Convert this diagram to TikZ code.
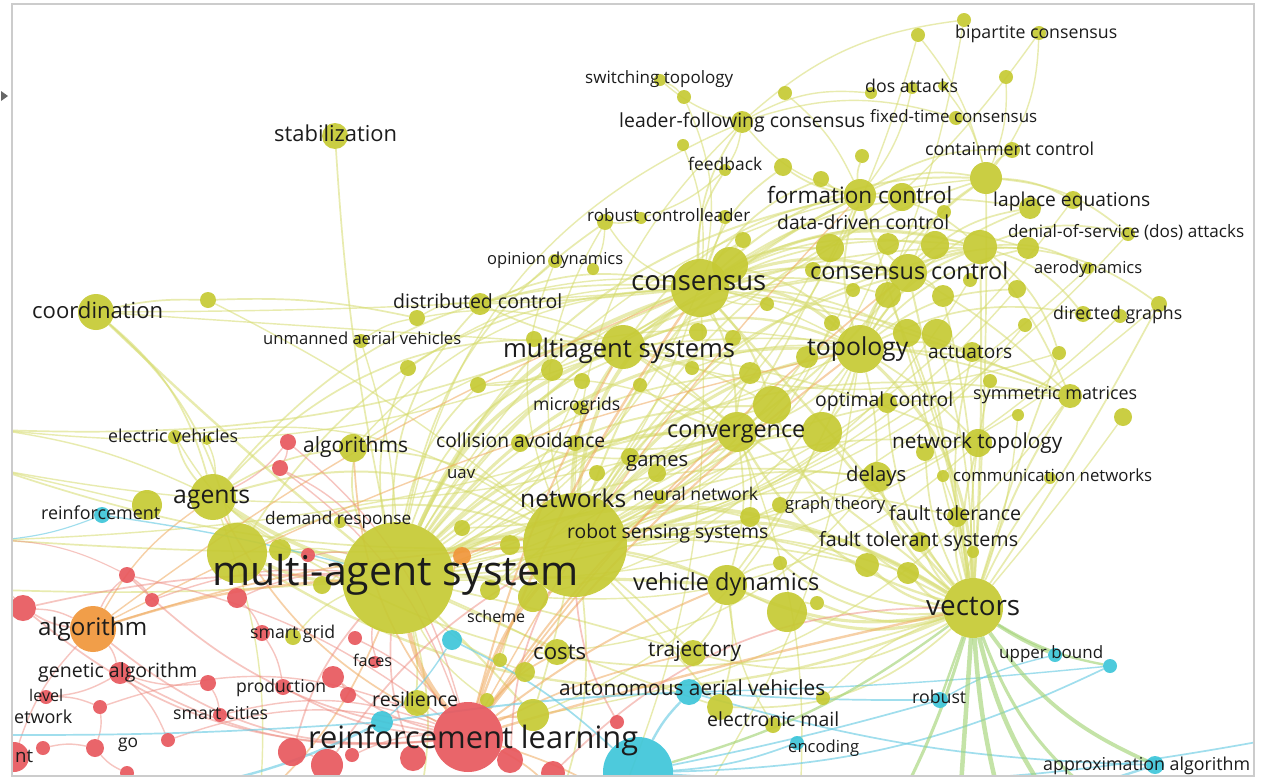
\documentclass[tikz,border=0pt]{standalone}
\usepackage{fontspec}
\setmainfont{Open Sans}
\usepackage{graphicx}
\usetikzlibrary{backgrounds}
\definecolor{yel}{RGB}{198,202,52}
\definecolor{red1}{RGB}{232,88,94}
\definecolor{cya1}{RGB}{62,198,218}
\definecolor{ora1}{RGB}{240,150,58}
\definecolor{yedge}{RGB}{214,220,110}
\definecolor{redge}{RGB}{238,140,130}
\definecolor{oedge}{RGB}{240,170,95}
\definecolor{cedge}{RGB}{110,205,228}
\definecolor{gedge}{RGB}{165,212,120}
\definecolor{txt}{RGB}{28,28,28}
\newcommand{\fw}[2]{\resizebox{#1pt}{!}{#2}}
\pgfdeclarelayer{edgelayer}
\pgfsetlayers{edgelayer,main}
\tikzset{
  ball/.style={circle,inner sep=0pt,draw=none,fill opacity=0.92},
  yb/.style={ball,fill=yel},
  rb/.style={ball,fill=red1},
  cb/.style={ball,fill=cya1},
  ob/.style={ball,fill=ora1},
  ye/.style={draw=yedge,draw opacity=0.55},
  re/.style={draw=redge,draw opacity=0.5},
  oe/.style={draw=oedge,draw opacity=0.55},
  ce/.style={draw=cedge,draw opacity=0.65},
  ge/.style={draw=gedge,draw opacity=0.65},
  lab/.style={inner sep=0pt,anchor=base west,text=txt},
}
\begin{document}
\begin{tikzpicture}[x=1pt,y=-1pt]
\useasboundingbox (0,0) rectangle (1268,779);
\begin{scope}
\clip (13,5) rectangle (1253,775);
% ---------- hubs
\foreach \n/\x/\y/\r in {mas/398/578/56,net/575/545/52,con/700/288/29,con2/730/265/18,mags/623/347/22,
 top/860/349/24,vec/973/608/30,agt/213/497/23,agl/147/505/15,big1/237/553/30,coo/96/312/18,stab/335/136/13,
 conv/737/432/20,conv2/772/405/19,conv3/822/432/20,fc/860/195/16,fc2/902/197/14,cc/908/273/19,k1/986/178/16,
 k2/980/247/17,vd/727/585/20,vd2/787/612/20}
  \node[yb,minimum size={2*\r*1pt}] (\n) at (\x,\y) {};
\foreach \n/\x/\y/\r in {a1/208/300/8,a2/361/341/7,a3/408/368/8,a4/417/318/8,a5/660/80/6,a6/684/97/7,a7/785/93/7,
 a8/742/122/11,a9/683/145/6,a10/725/170/6,a11/783/167/9,a12/821/179/8,a13/605/222/8,a14/641/218/6,a15/725/217/7,
 a16/743/240/8,a17/555/261/7,a18/593/269/6,a19/480/304/11,a20/767/304/7,a21/534/339/8,a22/698/332/9,a23/733/338/8,
 a24/552/370/11,a25/582/381/8,a26/692/368/7,a27/750/373/11,a28/478/385/8,a29/640/385/7,a30/964/20/7,a31/918/35/7,
 a32/1039/33/7,a33/1006/77/7,a34/871/93/6,a35/912/88/6,a36/943/86/5,a37/956/118/7,a38/862/156/7,a39/1012/150/8,
 a40/1030/208/11,a41/1073/200/9,a42/944/212/7,a43/1128/234/7,a44/1028/248/11,a45/1088/268/6,a46/1017/289/9,
 a47/970/280/7,a48/1083/314/8,a49/1120/316/7,a50/1159/304/8,a51/1025/325/7,a52/972/352/10,a53/1059/353/7,
 a54/1070/396/12,a55/990/381/7,a56/830/248/14,a57/888/244/11,a58/935/245/14,a59/813/270/8,a60/853/290/7,
 a61/888/295/13,a62/943/296/11,a64/832/323/8,a65/907/333/14,a66/937/334/15,a67/807/357/11,a68/887/403/10,
 a69/1018/415/6,a70/1123/417/9,a71/925/452/9,a72/978/443/14,a73/877/477/15,a74/943/476/6,a75/1050/478/6,
 a76/957/517/10,a77/920/542/10,a78/973/552/6,a79/867/565/12,a80/908/573/11,a81/580/408/7,a82/630/457/9,
 a83/575/443/8,a84/520/443/9,a85/657/473/9,a86/597/473/8,a87/462/528/8,a88/510/545/10,a89/750/517/10,
 a90/660/497/7,a91/780/563/7,a92/817/603/7,a93/490/590/10,a94/533/597/15,a95/500/660/7,a96/525/672/10,
 a97/557/652/13,a98/693/653/13,a99/533/715/16,a100/720/707/13,a101/773/725/8,a102/823/698/7,a103/175/437/7,
 a104/207/440/5,a105/353/448/14,a106/340/522/6,a107/280/550/11,a108/322/585/9,a109/293/637/8,a110/417/703/13,
 a111/487/700/7,a112/780/505/8}
  \node[yb,minimum size={2*\r*1pt}] (\n) at (\x,\y) {};
\foreach \n/\x/\y/\r in {r1/288/442/8,r2/280/468/8,r3/308/555/7,r4/127/575/8,r5/152/600/7,r6/237/598/10,
 r7/23/608/13,r8/262/633/8,r9/355/638/7,r10/120/673/11,r11/208/683/8,r12/333/677/11,r13/283/687/8,r14/348/695/8,
 r15/375/662/6,r16/46/697/7,r17/100/707/7,r18/220/715/7,r19/168/740/7,r20/95/748/9,r21/43/748/7,r22/14/757/15,
 r23/127/773/7,r24/292/752/14,r25/327/765/16,r26/352/755/7,r27/413/758/13,r28/510/760/13,r29/553/773/12,
 r30/617/722/7,rl/468/737/35}
  \node[rb,minimum size={2*\r*1pt}] (\n) at (\x,\y) {};
\foreach \n/\x/\y/\r in {c1/102/515/8,c2/452/640/10,c3/382/722/11,c4/689/692/13,c5/797/743/7,c6/1055/655/7,
 c7/1110/666/7,c8/940/700/8,c9/1155/765/9,opt/638/772/35}
  \node[cb,minimum size={2*\r*1pt}] (\n) at (\x,\y) {};
\node[ob,minimum size=18pt] (o1) at (462,556) {};
\node[ob,minimum size=46pt] (alg) at (93,629) {};
\foreach \n/\x/\y in {g1/960/800,g2/1000/800,g3/1050/800,g4/1100/800,g5/900/800,cl1/0/778,cl2/0/735,cr1/1268/740,
 yl1/0/430,yl2/0/470,yl3/0/540,yl4/0/590,b1/420/800,b2/560/800,b3/700/800,b4/620/800,b5/260/800,b6/800/800}
  \coordinate (\n) at (\x,\y);
% ---------- labels
\foreach \n/\x/\y/\w/\t in {
 l1/955/38/162/bipartite consensus, l2/585/83/148/switching topology, l3/865/92/93/dos attacks,
 l4/619/127/246/leader-following consensus, l5/870/122/167/fixed-time consensus,
 l6/925/155/169/containment control, l7/688/170/74/feedback, l8/274/141/123/stabilization,
 l9/767/203/185/formation control, l10/993/206/157/laplace equations, l11/587/221/163/robust controlleader,
 l12/777/229/172/data-driven control, l13/1008/237/236/denial-of-service (dos) attacks,
 l14/487/264/136/opinion dynamics, l15/631/290/135/consensus, l16/810/279/198/consensus control,
 l17/1034/273/108/aerodynamics, l18/32/318/131/coordination, l19/393/308/169/distributed control,
 l20/1053/319/129/directed graphs, l21/263/344/198/unmanned aerial vehicles, l22/503/357/232/multiagent systems,
 l23/807/355/101/topology, l24/928/358/84/actuators, l25/973/399/164/symmetric matrices, l26/533/410/87/microgrids,
 l27/815/406/138/optimal control, l28/108/442/130/electric vehicles, l29/303/452/105/algorithms,
 l30/436/447/169/collision avoidance, l31/667/437/138/convergence, l32/892/448/170/network topology,
 l33/626/466/62/games, l34/846/481/60/delays, l35/953/481/199/communication networks, l36/447/478/28/uav,
 l37/173/503/77/agents, l38/520/507/106/networks, l39/633/500/125/neural network, l40/785/509/100/graph theory,
 l41/889/520/132/fault tolerance, l42/41/519/119/reinforcement, l43/265/524/146/demand response,
 l44/567/538/201/robot sensing systems, l45/819/546/199/fault tolerant systems, l46/212/585/366/multi-agent system,
 l47/633/590/186/vehicle dynamics, l48/926/615/94/vectors, l49/38/635/109/algorithm, l50/250/638/85/smart grid,
 l51/467/622/58/scheme, l52/533/659/53/costs, l53/648/656/93/trajectory, l54/999/658/104/upper bound,
 l55/353/666/39/faces, l56/38/677/159/genetic algorithm, l57/236/692/90/production,
 l58/559/695/266/autonomous aerial vehicles, l59/29/701/34/level, l60/372/706/86/resilience, l61/912/703/54/robust,
 l62/3/723/69/network, l63/173/719/95/smart cities, l64/707/726/132/electronic mail,
 l65/308/748/330/reinforcement learning, l66/118/747/20/go, l67/15/762/18/nt, l68/788/752/71/encoding,
 l69/1043/770/207/approximation algorithm}
  \node[lab] (\n) at (\x,\y) {\fw{\w}{\t}};
\end{scope}
% ---------- edges
\begin{pgfonlayer}{edgelayer}
\fill[white] (0,0) rectangle (1268,779);
\clip (13,5) rectangle (1253,775);
\foreach \a/\b/\bb/\w in {
 mas/net/5/3,mas/con/12/2.5,mas/mags/10/2.5,mas/top/15/2,mas/vec/15/2.5,mas/conv/10/2,mas/agt/-5/2.5,mas/big1/0/2,
 net/con/10/2.5,net/top/10/2,net/vec/10/2,net/conv/5/2,net/mags/5/2,con/cc/5/2,con/top/10/2,con/fc/-10/1.5,
 mags/top/10/1.5,top/vec/10/2,top/cc/5/1.5,vec/conv3/-10/1.5,vec/vd2/5/2,vec/vd/5/2,mas/vd/-10/2,net/vd/-5/1.5,
 mas/coo/-10/1.5,coo/a1/-5/1,a1/a4/-5/1,a4/a19/5/0.8,coo/agt/5/1,coo/big1/5/1,stab/mas/-16/1,
 mas/a19/10/1,mas/a24/10/1,mas/a28/5/1,mas/a105/5/1,mas/a103/10/0.8,mas/a3/5/1,mas/a13/10/1,mas/a8/15/0.8,
 mas/fc/15/1.2,mas/cc/15/1.2,mas/k1/15/0.8,mas/k2/15/1,mas/a54/10/1,mas/a73/5/1,mas/a79/0/1,mas/a99/-10/1.2,
 mas/a97/-10/1,mas/a94/0/1,mas/a98/-10/1,mas/a100/-15/1,mas/a110/-5/1,mas/conv2/10/1.2,mas/conv3/10/1.2,
 mas/a27/10/1,mas/a22/10/1,net/a13/10/0.8,net/a17/10/0.8,net/a8/10/0.8,net/fc/10/1.2,net/cc/10/1.2,net/k2/10/1,
 net/k1/10/1,net/a54/5/1,net/a72/5/1,net/a73/5/1,net/a79/0/1,net/a80/0/1,net/a76/5/1,net/conv2/5/1,net/conv3/5/1,
 net/a27/5/1,net/a98/-10/1,net/a100/-10/1,net/a99/-10/1,net/vd2/-5/1,net/a89/5/1,net/a82/5/1,con/a8/5/1,
 con/a10/5/1,con/a11/5/1,con/a12/5/1,con/a13/5/0.8,con/a16/0/1,con/a56/5/1,con/k2/10/1.2,con/k1/10/1.2,
 con/a40/10/1,con/a44/10/1,con/a58/5/1,con/a61/0/1,con/a65/0/1,con/conv/0/1.2,con/conv2/0/1.2,con/a54/-5/1,
 con/a52/-5/1,con/vec/-10/1.5,con/a19/-10/1,con/a24/-5/1,mags/a19/-5/1,mags/fc/10/1,mags/cc/10/1.2,mags/k2/10/1,
 mags/conv/-5/1,mags/conv2/-5/1,mags/vec/-10/1.2,mags/a54/0/1,mags/a72/-5/1,top/k1/5/1,top/k2/5/1.2,top/fc/5/1.2,
 top/a40/5/1,top/a44/5/1,top/a48/5/1,top/a46/5/1,top/a52/0/1,top/a54/0/1.2,top/conv/5/1,top/conv3/0/1.2,
 top/a72/-5/1,top/a73/-5/1,top/vd/-5/1,cc/k2/0/1.2,cc/k1/5/1,cc/fc/5/1,cc/a40/5/1,cc/a44/0/1,cc/a58/0/1,
 cc/a62/0/1,cc/conv/-5/1.2,cc/a54/-5/1,fc/k1/5/1,fc/k2/5/1,fc/a12/0/1,fc/a11/0/1,fc/a39/5/1,fc/a38/0/1,
 fc/a8/5/0.8,fc/conv/-10/1,k1/a39/0/1,k1/a41/0/1,k1/a43/5/1,k2/a43/5/1,k2/a45/5/1,k2/a50/5/1,k2/a48/5/1,
 k2/a53/5/1,k2/a54/-5/1,a8/a5/0/0.8,a8/a10/0/0.8,a8/a37/5/0.8,a8/a34/5/0.8,a8/a30/5/0.8,a10/a14/0/0.8,
 a14/a13/0/0.8,a13/a18/0/0.8,a17/a19/0/0.8,a5/a6/0/0.8,vec/a73/5/1.5,vec/a79/5/1.5,vec/a80/5/1.5,vec/a76/0/1.2,
 vec/a77/0/1.2,vec/a78/0/1,vec/a72/0/1.2,vec/a71/0/1,vec/a68/5/1,vec/a55/-5/1,vec/a54/-5/1.2,vec/a52/0/1,
 vec/a50/-15/1,vec/a53/-10/1,vec/a75/-5/1,vec/conv/10/1.5,vec/conv2/10/1.2,vec/a89/10/1.2,vec/a91/10/1.2,
 vec/a92/5/1.5,vec/a98/10/1,vec/a100/10/1,vec/big1/15/1.5,vec/agt/15/1,conv/a82/5/1,conv/a85/0/1,conv/a83/0/1,
 conv/a84/5/1,conv/a87/5/1,conv/a29/0/1,conv/a27/0/1,conv/vd/0/1,conv/a89/0/1,agt/a103/0/1,agt/a105/0/1,
 agt/net/10/1.2,agt/con/15/1,agt/mags/15/1,big1/net/10/1.2,big1/con/15/1,a105/net/5/1,a105/con/10/0.8,
 vd/a98/0/1,vd/a100/0/1,vd/a91/0/1,vd2/a92/0/1,a24/a28/0/1,a21/a24/0/1,a2/a4/0/0.8,a2/mas/-5/0.8,
 con2/a16/0/1,con2/k2/5/1,con2/top/5/1.2,a20/con/0/0.8,a23/con/0/0.8,a26/top/0/0.8,a67/mas/10/1,
 a64/net/10/0.8,a57/net/10/0.8,a59/mas/10/0.8,a60/net/5/0.8,a66/vec/-5/1,a65/vec/-5/1,a61/vec/-5/1,
 a62/vec/-5/1,a68/mas/5/1,a69/vec/-5/0.8,a70/vec/-10/0.8,a74/vec/-5/0.8,a112/net/0/0.8,a90/net/0/0.8,
 a85/mas/0/0.8,a86/mas/0/0.8,a81/mas/5/0.8,a25/mas/5/0.8,a29/mas/5/0.8,a93/net/0/0.8,a95/net/0/0.8,
 a96/mas/0/0.8,a101/vd/0/0.8,a102/vec/0/0.8,a109/mas/0/0.8,a111/mas/0/0.8,a104/agt/0/0.8,a106/mas/0/0.8,
 a107/mas/0/0.8,a108/mas/0/0.8,a42/con/5/0.8,a47/net/10/0.8,a49/mas/10/0.8,a51/net/10/0.8,
 yl1/con/-25/1,yl1/mags/-25/0.8,yl2/net/-22/1,yl2/conv/-25/0.8,yl3/net/-15/1,yl4/mas/-15/1,yl3/top/-22/0.8,
 agt/yl1/-20/0.8,agl/yl2/-12/0.8,coo/mags/-12/0.8,coo/con/-14/0.8,a1/net/-6/0.8,a3/con/5/0.8,a4/mags/5/0.8,
 a19/con/5/1,a19/top/10/0.8,a24/cc/10/0.8,a28/conv/5/0.8,a103/net/10/0.8,a105/top/10/0.8,
 a31/k1/0/0.8,a32/k1/5/0.8,a33/k1/0/0.8,a35/fc/0/0.8,a36/k1/0/0.8,a7/fc/0/0.8,a6/con/5/0.8,a9/con/0/0.8,
 a15/mas/10/0.8,a30/top/-5/0.8,a31/net/5/0.8,a32/mags/5/0.8,a41/net/5/0.8,a43/net/5/0.8,a45/mas/5/0.8,
 a46/net/5/0.8,a50/net/5/0.8,a53/mags/5/0.8,k1/vec/-10/1,k2/vec/-10/1.2,fc/vec/-10/1,cc/vec/-10/1.2,
 a54/a99/10/0.8,a72/a94/10/0.8,a73/a97/10/0.8,conv3/a99/10/0.8,top/a94/10/0.8,con/a93/5/0.8,
 net/b2/0/1,mas/b1/0/1,top/b3/0/0.8,con/b4/0/0.8,agt/b5/0/0.8,conv/b6/0/0.8}
  \draw[ye,line width={(\w*1.4+0.3)*1pt}] (\a) to[bend left={\bb+12}] (\b);
\foreach \a/\b/\bb/\w in {rl/mas/0/3,rl/net/0/2,rl/vec/-10/1.5,rl/a105/5/1,rl/agt/5/1,rl/con/-5/1.5,
 rl/mags/-5/1.2,rl/top/-5/1.2,rl/conv/-5/1.2,alg/mas/-5/1.5,alg/net/-5/1,o1/mas/0/1,o1/net/0/1,rl/a99/0/1.5,
 rl/a97/0/1,rl/vd/-5/1.2,rl/a98/-5/1,rl/cc/-5/1,rl/fc/-5/0.8,alg/con/-5/0.8,alg/top/-5/0.8,rl/b2/0/1,
 rl/b4/-5/1,mas/b5/0/1,alg/agt/0/0.8}
  \draw[oe,line width={(\w*1.4+0.3)*1pt}] (\a) to[bend left={\bb+12}] (\b);
\foreach \a/\b/\bb/\w in {rl/alg/10/1,rl/r7/10/1,rl/r10/5/1,rl/r4/5/1,rl/r12/0/1,rl/r13/0/1,alg/r7/0/1,
 alg/r10/0/0.8,alg/r4/0/0.8,r7/mas/-5/1,r4/r5/0/0.8,r10/r16/0/0.8,r10/r19/0/0.8,r16/r17/0/0.8,r17/r20/0/0.8,
 r21/r20/0/0.8,r1/r2/0/0.8,r2/mas/0/0.8,r1/agt/0/0.8,r6/r8/0/0.8,r8/r13/0/0.8,r11/r18/0/0.8,r12/r14/0/0.8,
 r24/r25/0/0.8,r24/mas/0/1,r25/net/0/1,r27/mas/0/1,r28/net/0/1,r29/vec/10/1,r30/net/0/1,r3/mas/0/0.8,
 r9/rl/0/0.8,r15/mas/0/0.8,r11/r10/0/0.8,r22/alg/0/0.8,r23/r20/0/0.8,r26/rl/0/0.8,r5/mas/0/0.8,r6/mas/0/0.8,
 r7/alg/0/0.8,r19/rl/5/0.8,r18/rl/5/0.8,r17/rl/10/0.8,r1/rl/5/0.8,r2/rl/5/0.8,r4/rl/0/0.8,yl3/r4/0/0.6,
 yl4/r7/0/0.6}
  \draw[re,line width={(\w*1.4+0.3)*1pt}] (\a) to[bend left={\bb+12}] (\b);
\foreach \a/\b/\bb/\w in {opt/c4/0/1.5,opt/c9/-25/1.5,opt/c7/-20/1,opt/c8/-10/1,c4/c8/-10/1,c3/c4/-5/1.2,
 c3/cl1/10/1.5,c2/opt/0/1,c1/mas/-5/0.8,c4/c9/-15/1,c8/c6/0/0.8,c5/opt/0/1,cl2/c3/-10/1,opt/cr1/-15/1,c2/c3/0/0.8,
 c1/yl3/0/0.6,c4/c7/-10/0.8}
  \draw[ce,line width={(\w*1.4+0.3)*1pt}] (\a) to[bend left={\bb+8}] (\b);
\foreach \a/\b/\bb/\w in {vec/g1/0/3,vec/g2/-5/3,vec/g3/-10/3,vec/g4/-15/2,vec/c9/-15/2.5,vec/c6/-5/2,
 vec/c7/-10/1.5,vec/c8/0/1.5,vec/g5/5/2,vec/opt/10/1.5}
  \draw[ge,line width={(\w*1.4+0.3)*1pt}] (\a) to[bend left=\bb] (\b);
\end{pgfonlayer}
% ---------- frame and pointer
\draw[black!20,line width=1.5pt] (12,4) rectangle (1254,776);
\fill[black!60] (1,91) -- (8,96) -- (1,101) -- cycle;
\end{tikzpicture}
\end{document}
